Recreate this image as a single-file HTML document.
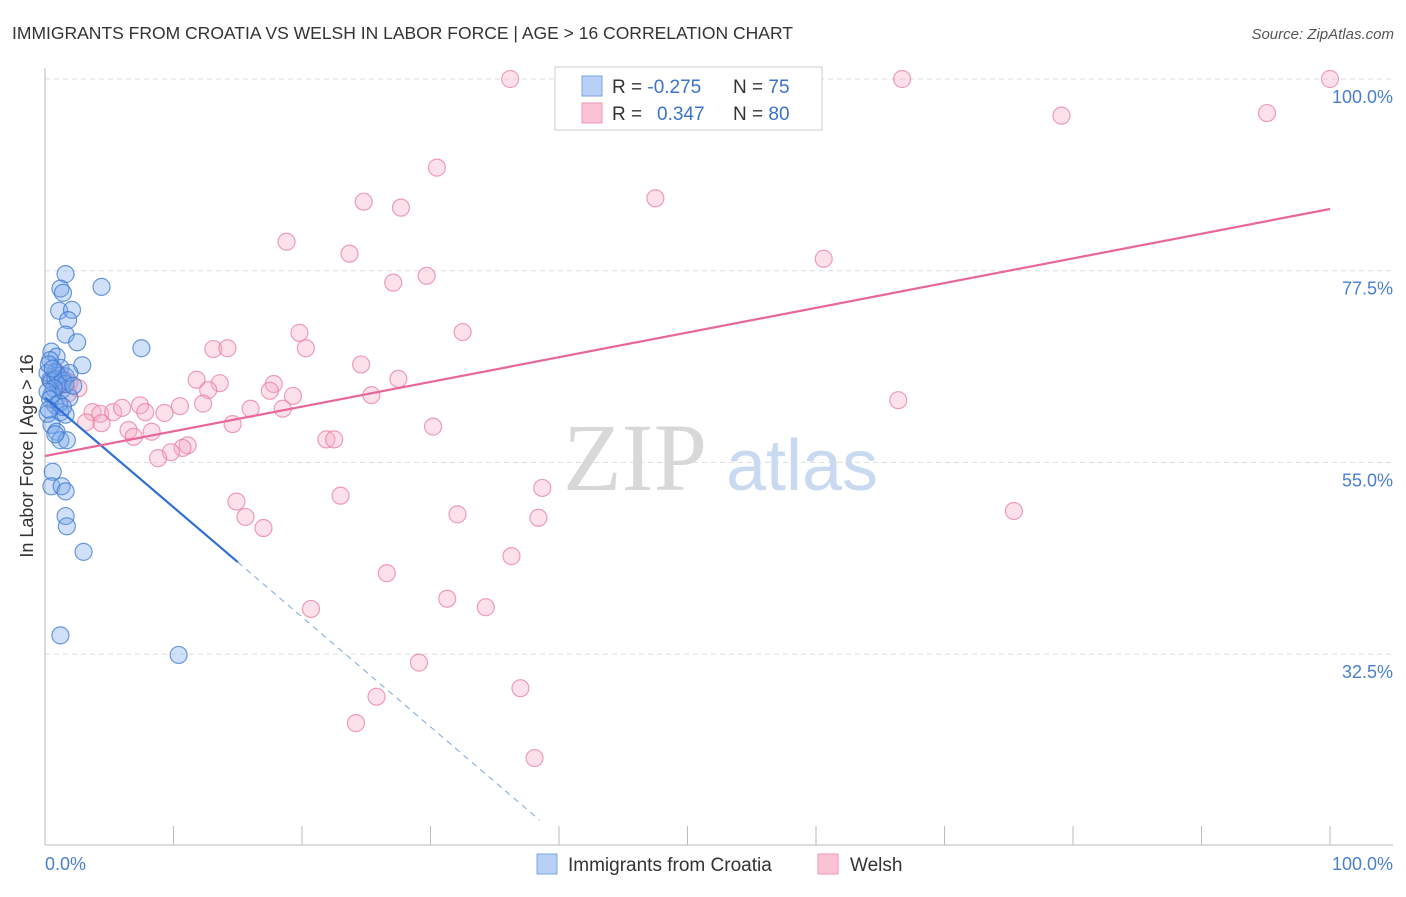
<!DOCTYPE html>
<html><head><meta charset="utf-8"><style>
body{margin:0;background:#fff;font-family:"Liberation Sans",sans-serif}
</style></head><body>
<svg width="1406" height="892" viewBox="0 0 1406 892" xmlns="http://www.w3.org/2000/svg">
<text x="12" y="39" font-size="17.5" fill="#333">IMMIGRANTS FROM CROATIA VS WELSH IN LABOR FORCE | AGE &gt; 16 CORRELATION CHART</text>
<text x="1394" y="39" font-size="15" fill="#555" font-style="italic" text-anchor="end">Source: ZipAtlas.com</text>
<g id="grid"></g>
<g>
<text x="635" y="490" font-size="96" font-family="Liberation Serif,serif" fill="#d8d8d8" text-anchor="middle">ZIP</text>
<text x="802" y="490" font-size="72" fill="#c9daf0" text-anchor="middle">atlas</text>
</g>
<line x1="45" y1="68" x2="45" y2="845" stroke="#bbb"/>
<line x1="45" y1="845" x2="1393" y2="845" stroke="#bbb"/>
<g id="ticks"></g>
<g id="pts"></g>
<g id="trends"></g>
<text x="33" y="456" font-size="18" fill="#333" text-anchor="middle" transform="rotate(-90 33 456)">In Labor Force | Age &gt; 16</text>
<text x="45" y="870" font-size="18" fill="#4a7fd0">0.0%</text>
<text x="1393" y="870" font-size="18" fill="#4a7fd0" text-anchor="end">100.0%</text>
<g>
<rect x="555" y="67" width="267" height="63" fill="#fff" stroke="#ccc"/>
<rect x="582" y="76" width="20" height="20" fill="#b8d0f5" stroke="#7aa6e6"/>
<rect x="582" y="103" width="20" height="20" fill="#fbc4d4" stroke="#ee9ab4"/>
<text x="612" y="93" font-size="19" fill="#333">R = <tspan fill="#3a72cc">-0.275</tspan><tspan x="733">N = </tspan><tspan fill="#3a72cc">75</tspan></text>
<text x="612" y="120" font-size="19" fill="#333">R = <tspan x="657" fill="#3a72cc">0.347</tspan><tspan x="733">N = </tspan><tspan fill="#3a72cc">80</tspan></text>
</g>
<g>
<rect x="537" y="854" width="20" height="20" fill="#b8d0f5" stroke="#7aa6e6"/>
<text x="568" y="871" font-size="19" fill="#333">Immigrants from Croatia</text>
<rect x="818" y="854" width="20" height="20" fill="#fbc4d4" stroke="#ee9ab4"/>
<text x="850" y="871" font-size="19" fill="#333">Welsh</text>
</g>
</svg>
<script>
const yTicks=[100,77.5,55,32.5];
const yTickLabels=["100.0%","77.5%","55.0%","32.5%"];
const xTicks=[0,10,20,30,40,50,60,70,80,90,100];
const blueX=[1.6,1.2,1.4,4.4,1.1,2.1,1.8,1.6,2.5,7.5,2.9,0.5,0.9,0.4,1.2,0.8,1.6,0.4,1.0,1.3,1.9,0.5,0.8,1.2,1.6,0.5,0.9,1.2,1.7,0.6,0.5,1.3,1.6,1.6,1.7,3.0,1.2,10.4,0.2,0.5,0.8,1.0,1.4,1.6,0.7,0.2,0.4,1.1,1.4,0.2,0.8,0.3,0.6,1.9,2.2,0.3];
const blueY=[77.1,75.4,74.9,75.6,72.8,72.9,71.7,70.0,69.1,68.4,66.4,68.0,67.4,67.0,66.1,65.6,65.1,64.7,64.1,63.5,62.6,62.9,61.7,60.9,60.6,59.4,58.6,57.6,57.6,53.9,52.2,52.2,51.6,48.7,47.5,44.5,34.7,32.4,65.5,64.5,64.8,65.2,64.6,64.2,63.7,63.3,62.4,61.9,61.5,60.7,58.3,66.5,66.0,65.5,64.0,61.2];
const pinkX=[36.2,41.2,66.7,100,79.1,95.1,30.5,47.5,24.8,27.7,18.8,23.7,60.6,29.7,27.1,32.5,19.8,20.3,13.1,14.2,24.6,11.8,13.6,12.7,17.8,17.5,27.5,25.4,19.3,12.3,10.5,66.4,16.0,18.5,7.4,7.8,9.3,3.7,4.3,5.3,6.0,3.2,4.4,14.6,30.2,6.5,8.3,6.9,21.9,22.5,11.1,10.7,9.8,8.8,38.7,23.0,14.9,75.4,32.1,15.6,38.4,17.0,36.3,26.6,31.3,34.3,20.7,29.1,37.0,25.8,24.2,38.1,0.5,1.2,1.9,2.6,1.8,0.9,1.4];
const pinkY=[100,100,100,100,95.7,96.0,89.6,86.0,85.6,84.9,80.9,79.5,78.9,76.9,76.1,70.3,70.2,68.4,68.3,68.4,66.5,64.7,64.3,63.5,64.2,63.4,64.8,62.9,62.8,61.9,61.6,62.3,61.3,61.3,61.7,60.9,60.8,60.9,60.7,60.9,61.4,59.7,59.6,59.5,59.2,58.8,58.6,58.0,57.7,57.7,57.0,56.7,56.2,55.5,52.0,51.1,50.4,49.3,48.9,48.6,48.5,47.3,44.0,42.0,39.0,38.0,37.8,31.5,28.5,27.5,24.4,20.3,64.7,64.1,64.4,63.7,63.1,65.6,64.9];
const blueTrend=[[0,62.6],[15,43.3],[38.5,13]];
const pinkTrend=[[0,55.75],[100,84.74]];
const NS="http://www.w3.org/2000/svg";
const sx=v=>45+v*12.85, sy=v=>79+(100-v)*8.52;
function mk(t,a,p){const e=document.createElementNS(NS,t);for(const k in a)e.setAttribute(k,a[k]);p.appendChild(e);return e;}
const grid=document.getElementById('grid');
yTicks.forEach((v,i)=>{
 const l=mk('line',{x1:45,x2:1393,y1:sy(v),y2:sy(v),stroke:'#ddd','stroke-dasharray':'5,4'},grid);
 
 
 const t=mk('text',{x:1393,y:sy(v)+24,'font-size':18,fill:'#4a7fd0','text-anchor':'end'},grid);
 t.textContent=yTickLabels[i];
 
 
});
const tk=document.getElementById('ticks');
xTicks.forEach(v=>{
 const l=mk('line',{x1:sx(v),x2:sx(v),y1:826,y2:845,stroke:'#bbb'},tk);
 
 
});
const pts=document.getElementById('pts');
pinkX.forEach((x,i)=>{
 const c=mk('circle',{cx:sx(x),cy:sy(pinkY[i]),r:8.5,fill:'rgba(247,170,195,0.35)',stroke:'rgba(232,120,155,0.7)','stroke-width':1.2},pts);
 
 
});
blueX.forEach((x,i)=>{
 const c=mk('circle',{cx:sx(x),cy:sy(blueY[i]),r:8.5,fill:'rgba(120,165,235,0.35)',stroke:'rgba(60,120,210,0.75)','stroke-width':1.2},pts);
 
 
});
const tr=document.getElementById('trends');
let l1=mk('line',{x1:sx(blueTrend[0][0]),y1:sy(blueTrend[0][1]),x2:sx(blueTrend[1][0]),y2:sy(blueTrend[1][1]),stroke:'#2f6fd6','stroke-width':2.2},tr);


let l2=mk('line',{x1:sx(blueTrend[1][0]),y1:sy(blueTrend[1][1]),x2:sx(blueTrend[2][0]),y2:sy(blueTrend[2][1]),stroke:'#7aa6e6','stroke-width':1,'stroke-dasharray':'6,5'},tr);


let l3=mk('line',{x1:sx(pinkTrend[0][0]),y1:sy(pinkTrend[0][1]),x2:sx(pinkTrend[1][0]),y2:sy(pinkTrend[1][1]),stroke:'#e8679a','stroke-width':2.2},tr);


</script>
</body></html>
